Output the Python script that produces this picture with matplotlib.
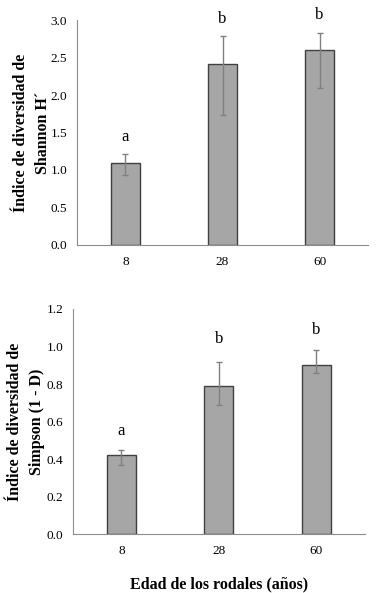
import matplotlib
matplotlib.use("Agg")
import matplotlib.pyplot as plt
import numpy as np

ages = ["8", "28", "60"]

shannon = [1.10, 2.41, 2.60]
shannon_err_low = [0.17, 0.68, 0.50]
shannon_err_high = [0.12, 0.38, 0.23]
shannon_letters = ["a", "b", "b"]
shannon_letter_y = [1.44, 3.01, 3.07]

simpson = [0.42, 0.79, 0.90]
simpson_err_low = [0.05, 0.10, 0.04]
simpson_err_high = [0.03, 0.13, 0.08]
simpson_letters = ["a", "b", "b"]
simpson_letter_y = [0.55, 1.04, 1.09]

plt.rcParams["font.family"] = ["Liberation Serif", "DejaVu Serif"]

fig = plt.figure(figsize=(3.83, 5.93), dpi=100)
ax1 = fig.add_axes([0.201, 0.587, 0.760, 0.379])
ax2 = fig.add_axes([0.190, 0.099, 0.763, 0.380])


def draw_panel(ax, vals, lo, hi, letters, letter_y, ymax, step, ylabel, lpad):
    x = np.arange(len(ages))
    ax.bar(x, vals, width=0.3, color="#a6a6a6", edgecolor="#404040",
           linewidth=1.0, zorder=2)
    ax.errorbar(x, vals, yerr=[lo, hi], fmt="none", ecolor="#808080",
                elinewidth=1.0, capsize=2.5, capthick=1.0, zorder=3)
    for xi, t, ty in zip(x, letters, letter_y):
        ax.text(xi, ty, t, ha="center", va="center", fontsize=12)
    ax.set_xlim(-0.5, 2.5)
    ax.set_ylim(0, ymax)
    ax.set_yticks(np.arange(0, ymax + step / 2, step))
    ax.yaxis.set_major_formatter(matplotlib.ticker.FormatStrFormatter("%.1f"))
    ax.set_xticks(x)
    ax.set_xticklabels(ages)
    ax.tick_params(length=0, labelsize=9.5, colors="#000000")
    ax.tick_params(axis="y", pad=7)
    ax.tick_params(axis="x", pad=8)
    for side in ["top", "right"]:
        ax.spines[side].set_visible(False)
    ax.spines["left"].set_color("#8c8c8c")
    ax.spines["bottom"].set_color("#8c8c8c")
    ax.set_ylabel(ylabel, fontsize=11.5, fontweight="bold", linespacing=1.5,
                  labelpad=lpad)


draw_panel(ax1, shannon, shannon_err_low, shannon_err_high, shannon_letters,
           shannon_letter_y, 3.0, 0.5, "Índice de diversidad de\nShannon H´", 0)
draw_panel(ax2, simpson, simpson_err_low, simpson_err_high, simpson_letters,
           simpson_letter_y, 1.2, 0.2, "Índice de diversidad de\nSimpson (1 - D)", 1)

ax2.set_xlabel("Edad de los rodales (años)", fontsize=11.5, fontweight="bold",
               labelpad=14)

fig.savefig("out.png", dpi=100)
